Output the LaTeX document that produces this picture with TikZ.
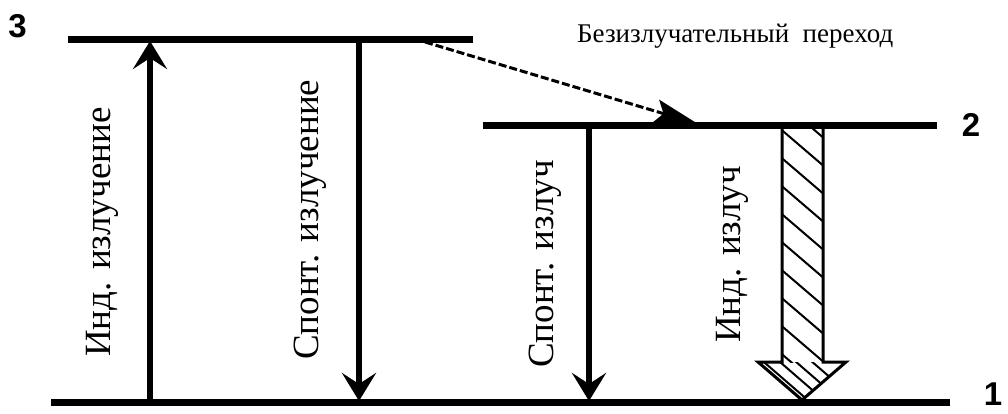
\documentclass[tikz,border=0pt]{standalone}
\usepackage{fontspec}
\setmainfont{Liberation Serif}
\newfontfamily\lblfont{Liberation Sans}
\usetikzlibrary{arrows.meta}
\begin{document}
\begin{tikzpicture}[x=1pt,y=-1pt,
  levelline/.style={line width=7pt},
  trans/.style={line width=6pt,-{Stealth[length=28pt,width=34pt,inset=11pt]}},
  vlabel/.style={rotate=90,anchor=base west,inner sep=0pt,font=\fontsize{37}{40}\selectfont},
  lvl/.style={font=\lblfont\bfseries\fontsize{33}{36}\selectfont,inner sep=0pt},
  hatch/.style={line width=2pt},
  nonrad/.style={line width=3pt,dash pattern=on 8pt off 3pt,-{Stealth[length=44pt,width=24pt,inset=8pt]}}]
\useasboundingbox (0,0) rectangle (1008,414);
% levels
\coordinate (l3a) at (68,40);   \coordinate (l3b) at (473,40);
\coordinate (l2a) at (483,126); \coordinate (l2b) at (937,126);
\coordinate (l1a) at (51,402);  \coordinate (l1b) at (950,402);
\draw[levelline] (l3a) -- (l3b);
\draw[levelline] (l2a) -- (l2b);
\draw[levelline] (l1a) -- (l1b);
% level labels
\node[lvl] (n3) at (17.5,26) {3};
\node[lvl] (n2) at (971,125) {2};
\node[lvl,anchor=base] (n1) at (993,405) {1};
% transitions
\coordinate (u1) at (150,402); \coordinate (u3) at (150,41);
\draw[trans] (u1) -- (u3);
\coordinate (s3) at (359,40); \coordinate (s1) at (359,401);
\draw[trans] (s3) -- (s1);
\coordinate (t2) at (589,126); \coordinate (t1) at (589,401);
\draw[trans] (t2) -- (t1);
% non-radiative
\coordinate (d3) at (425,42); \coordinate (d2) at (698,124);
\draw[nonrad] (d3) -- (d2);
\node[anchor=base west,inner sep=0pt,font=\fontsize{27}{30}\selectfont] (bez) at (577,43) {Безизлучательный\enspace переход};
% hatched stimulated arrow
\begin{scope}
\clip (782,126) -- (823,126) -- (823,362) -- (782,362) -- cycle;
\foreach \k in {-1,...,9} \draw[hatch] (770,120+28*\k) -- ++(70,60);
\end{scope}
\begin{scope}
\clip (758,362) -- (846,362) -- (802,400) -- cycle;
\foreach \k in {-3,...,4} \draw[hatch] (750,350+14*\k) -- ++(90,78);
\end{scope}
\draw[line width=3pt,line join=miter] (782,126) -- (782,362) -- (758,362) -- (802,400) -- (846,362) -- (823,362) -- (823,126);
% vertical labels
\node[vlabel] (ti1) at (110,357) {Инд. излучение};
\node[vlabel] (ts1) at (318,360) {Спонт. излучение};
\node[vlabel] (ts2) at (553,368) {Спонт. излуч};
\node[vlabel] (ti2) at (740,343) {Инд. излуч};
\end{tikzpicture}
\end{document}
